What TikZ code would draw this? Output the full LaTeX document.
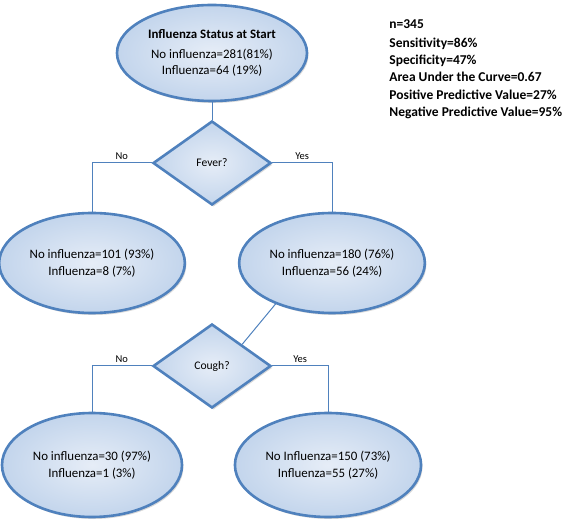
\documentclass[tikz,border=0pt]{standalone}
\usepackage{fontspec}
\setmainfont{Carlito}
\usetikzlibrary{shapes.geometric,shadows}
\definecolor{flowline}{HTML}{4F81BD}
\definecolor{flowfill}{HTML}{C3D5EC}
\definecolor{flowlight}{HTML}{E6EDF7}
\begin{document}
\begin{tikzpicture}[x=1pt, y=1pt, thick,
    main/.style = {draw=flowline, line width=2.6pt, ellipse, inner color=flowlight, outer color=flowfill,
      drop shadow={opacity=0.3, shadow xshift=1.5pt, shadow yshift=-2pt},
      align=center, font=\fontsize{12.9}{16.5}\selectfont},
    test/.style = {main, diamond, minimum width=118pt, minimum height=84pt, inner sep=0pt,
      font=\fontsize{11.6}{14}\selectfont},
    link/.style = {draw=flowline, line width=1pt},
    lab/.style = {above, font=\fontsize{10.5}{12}\selectfont}]
  \useasboundingbox (0,0) rectangle (567,522);
  \node[main, minimum width=164pt, minimum height=96pt] (start) at (212,469)
    {\textbf{Influenza Status at Start}\\[3pt] No influenza=281(81\%)\\ Influenza=64 (19\%)};
  \node[test] (fever) at (212,359) {Fever?};
  \node[main, minimum width=178pt, minimum height=100pt] (feverno) at (92,259)
    {No influenza=101 (93\%)\\ Influenza=8 (7\%)};
  \node[main, minimum width=180pt, minimum height=100pt] (feveryes) at (332,259)
    {No influenza=180 (76\%)\\ Influenza=56 (24\%)};
  \node[test] (cough) at (212,156) {Cough?};
  \node[main, minimum width=180pt, minimum height=104pt] (coughno) at (92,57)
    {No influenza=30 (97\%)\\ Influenza=1 (3\%)};
  \node[main, minimum width=182pt, minimum height=104pt] (coughyes) at (328,57)
    {No Influenza=150 (73\%)\\ Influenza=55 (27\%)};
  \node[anchor=north west, align=left, inner sep=0pt, font=\bfseries\fontsize{13.5}{17.2}\selectfont] (stats) at (389,503)
    {n=345\\[2pt] Sensitivity=86\%\\ Specificity=47\%\\ Area Under the Curve=0.67\\
     Positive Predictive Value=27\%\\ Negative Predictive Value=95\%};

  \draw[link] (start) -- (fever);
  \draw[link] (fever.west) -| node[lab, pos=0.25] {No} (feverno.north);
  \draw[link] (fever.east) -| node[lab, pos=0.25] {Yes} (feveryes.north);
  \draw[link] (feveryes.216) -- (cough.north east);
  \draw[link] (cough.west) -| node[lab, pos=0.25] {No} (coughno.north);
  \draw[link] (cough.east) -| node[lab, pos=0.25] {Yes} (coughyes.north);
\end{tikzpicture}
\end{document}
